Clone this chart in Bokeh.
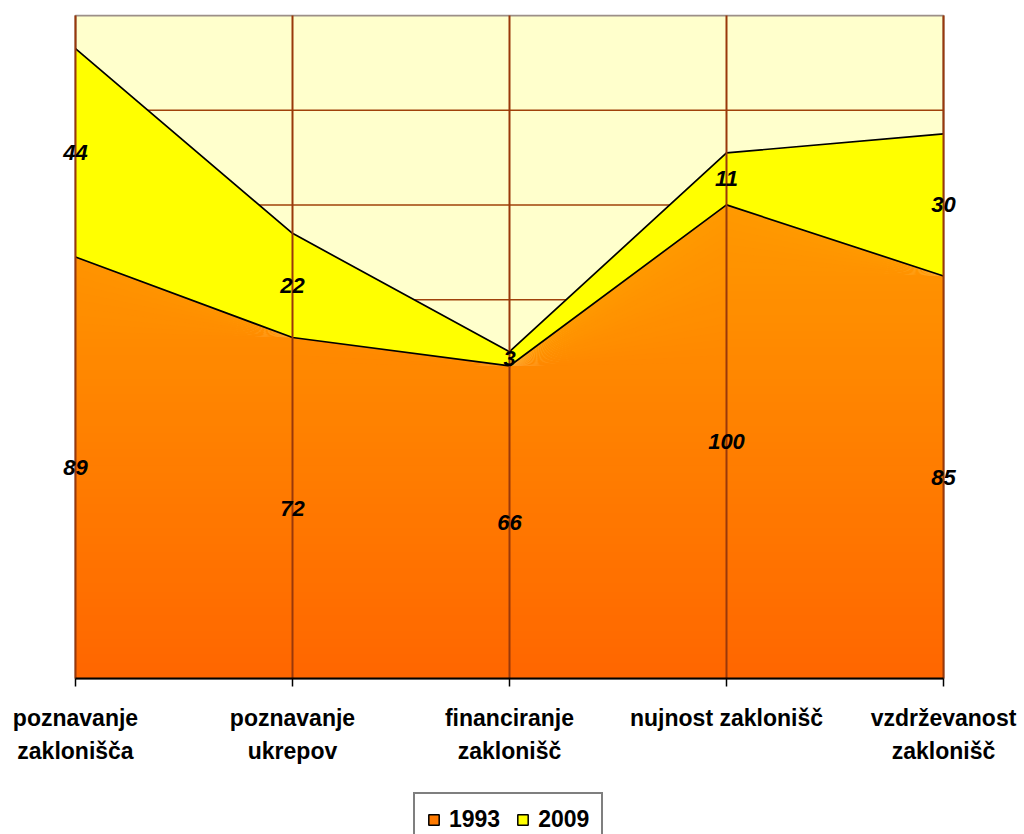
import numpy as np
import pandas as pd
from bokeh.plotting import figure
from bokeh.models import (Range1d, ColumnDataSource, Legend, LegendItem)
from bokeh.core.properties import value
from bokeh.embed import file_html
from bokeh.resources import INLINE

categories = ["poznavanje\nzaklonišča", "poznavanje\nukrepov", "financiranje\nzaklonišč",
              "nujnost zaklonišč", "vzdrževanost\nzaklonišč"]
v1993 = [89, 72, 66, 100, 85]
v2009 = [44, 22, 3, 11, 30]
series_names = ["1993", "2009"]
y_max = 140
y_step = 20

FONT = "Liberation Sans"
x = np.arange(len(categories))
a = np.array(v1993, dtype=float)
b = np.array(v2009, dtype=float)
total = a + b
xmin, xmax = 0, len(categories) - 1

# layout (pixels)
W, H = 1024, 834
plot_h_px = 663          # height of the plotting area (0..y_max)
top_px = 15
below_px = H - top_px - plot_h_px   # space under the zero line kept inside the frame
upp = y_max / plot_h_px             # data units per pixel (vertical)
area_left, area_right = 75, 943     # plot area edges in canvas pixels
xpp = (xmax - xmin) / (area_right - area_left)

p = figure(width=W, height=H, output_backend="svg", toolbar_location=None,
           x_range=Range1d(xmin - area_left * xpp, xmax + (W - area_right) * xpp),
           y_range=Range1d(-below_px * upp, y_max + 1 * upp),
           min_border_left=0, min_border_right=0,
           min_border_top=top_px - 1, min_border_bottom=0,
           x_axis_location=None, y_axis_location=None)
p.background_fill_color = "white"
p.border_fill_color = "white"
p.outline_line_color = None
p.grid.visible = False

# plot area background with grey border
p.quad(left=[xmin], right=[xmax], bottom=[0], top=[y_max], fill_color="#FFFFCC",
       line_color="#9C8F88", line_width=2)

# horizontal gridlines (under the areas)
gy = np.arange(y_step, y_max, y_step)
p.segment(x0=np.full(len(gy), xmin), x1=np.full(len(gy), xmax), y0=gy, y1=gy,
          line_color="#A0420A", line_width=1.5)

# orange gradient area for 1993 (bands from bottom to top)
top_val = a.max()
nb = 60
edges = np.linspace(0, top_val, nb + 1)
c_bot = np.array([255, 102, 0])
c_top = np.array([255, 153, 0])
for k in range(nb):
    lo, hi = edges[k], edges[k + 1]
    t = (lo + hi) / 2 / top_val
    c = (c_bot + (c_top - c_bot) * t).round().astype(int)
    col = "#%02x%02x%02x" % tuple(c)
    hi_ext = hi + (0.6 if k < nb - 1 else 0)
    p.varea(x=x, y1=np.minimum(lo, a), y2=np.minimum(hi_ext, a), fill_color=col)

# yellow area for 2009
p.varea(x=x, y1=a, y2=total, fill_color="#FFFF00")
p.line(x, a, line_color="black", line_width=1.7)
p.line(x, total, line_color="black", line_width=1.7)

# vertical drop lines at each category
p.segment(x0=x, x1=x, y0=np.zeros(len(x)), y1=np.full(len(x), y_max),
          line_color="#99380A", line_width=2)

# x axis line and ticks
p.segment(x0=[xmin], x1=[xmax], y0=[0], y1=[0], line_color="black", line_width=2)
p.segment(x0=x, x1=x, y0=np.zeros(len(x)), y1=np.full(len(x), -8 * upp),
          line_color="black", line_width=1.5)

# category labels
p.text(x=x, y=np.zeros(len(x)), text=categories, text_align="center", text_baseline="top",
       y_offset=26, text_font=value(FONT), text_font_size="23px", text_font_style="bold",
       text_color="black", text_line_height=1.3)

# data labels
src = ColumnDataSource(pd.DataFrame({
    "x": np.concatenate([x, x]),
    "y": np.concatenate([a / 2, a + b / 2]),
    "t": [str(v) for v in v1993] + [str(v) for v in v2009],
}))
p.text(x="x", y="y", text="t", source=src, text_align="center", text_baseline="middle",
       text_font=value(FONT), text_font_size="22px", text_font_style="bold italic",
       text_color="black")

# legend with dummy rectangles
r1 = p.quad(left=[-20], right=[-19], bottom=[-20], top=[-19], fill_color="#FF7A00",
            line_color="black", line_width=1.5)
r2 = p.quad(left=[-20], right=[-19], bottom=[-20], top=[-19], fill_color="#FFFF00",
            line_color="black", line_width=1.5)
legend = Legend(items=[LegendItem(label=series_names[0], renderers=[r1]),
                       LegendItem(label=series_names[1], renderers=[r2])],
                orientation="horizontal", location=(413, -13),
                label_text_font=FONT, label_text_font_size="23px", label_text_font_style="bold",
                label_text_color="black", border_line_color="black", border_line_width=2,
                background_fill_color="white", background_fill_alpha=1,
                glyph_width=13, glyph_height=13, label_standoff=9, spacing=16,
                padding=12, margin=0)
p.add_layout(legend, "center")

open("out.html", "w").write(file_html(p, INLINE))
